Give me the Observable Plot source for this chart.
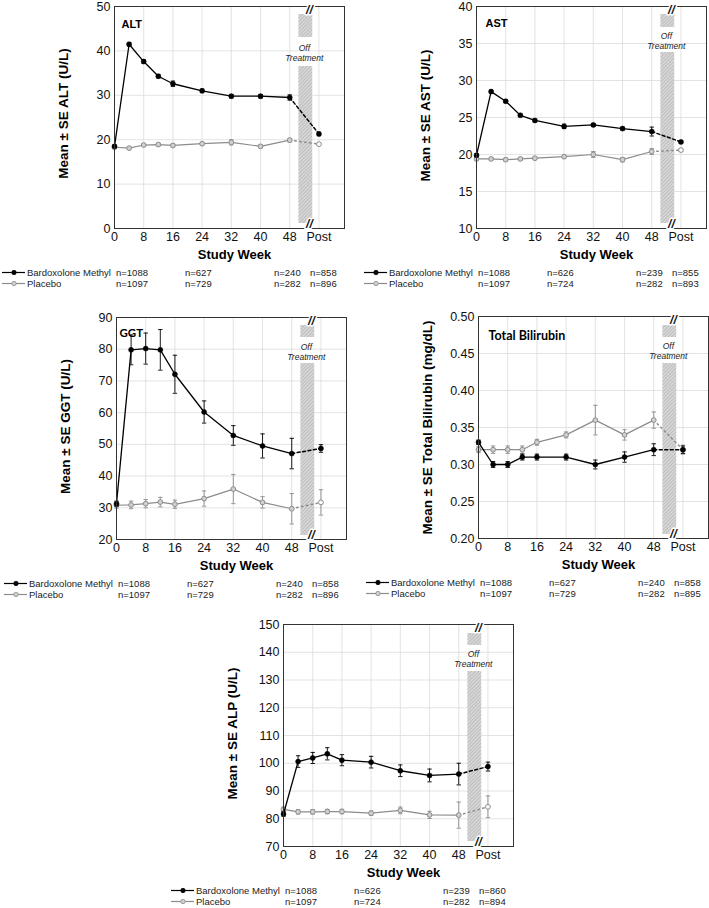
<!DOCTYPE html>
<html><head><meta charset="utf-8">
<script src="https://cdn.jsdelivr.net/npm/d3@7"></script>
<script src="https://cdn.jsdelivr.net/npm/@observablehq/plot@0.6"></script>
<style>
body{margin:0;background:#fff;font-family:"Liberation Sans",Arial,sans-serif;}
#root{position:relative;width:709px;height:908px;overflow:hidden;background:#fff;}
.panel{position:absolute;}
.leg{position:absolute;font-size:9.5px;color:#222;white-space:nowrap;line-height:11px;}
</style></head><body>
<svg width="0" height="0" style="position:absolute"><defs>
<pattern id="hatch" width="2.5" height="2.5" patternUnits="userSpaceOnUse" patternTransform="rotate(45)"><rect width="2.5" height="2.5" fill="#d6d6d6"/><line x1="0" y1="0" x2="0" y2="2.5" stroke="#a9a9a9" stroke-width="1"/></pattern>
</defs></svg>
<div id="root"></div>
<script>
// ---- data ----
const weekLabels = ["0","4","8","12","16","24","32","40","48","Post"];
const xTickLabels = ["0","8","16","24","32","40","48","Post"];
const groups = ["Bardoxolone Methyl","Placebo"];

const altBard   = [18.5,41.5,37.6,34.3,32.6,31.0,29.8,29.8,29.5,21.3];
const altBardSE = [0.3,0.4,0.4,0.4,0.6,0.4,0.4,0.4,0.6,0.4];
const altPlac   = [18.3,18.1,18.8,18.9,18.7,19.1,19.4,18.5,19.9,19.0];
const altPlacSE = [0.3,0.3,0.3,0.3,0.3,0.3,0.6,0.3,0.4,0.3];
const altNBard = [1088,627,240,858], altNPlac = [1097,729,282,896];

const astBard   = [19.9,28.5,27.2,25.3,24.6,23.8,24.0,23.5,23.1,21.7];
const astBardSE = [0.2,0.2,0.2,0.2,0.2,0.3,0.2,0.2,0.6,0.2];
const astPlac   = [19.4,19.4,19.3,19.4,19.5,19.7,20.0,19.3,20.4,20.6];
const astPlacSE = [0.2,0.2,0.2,0.2,0.2,0.2,0.4,0.3,0.4,0.2];
const astNBard = [1088,626,239,855], astNPlac = [1097,724,282,893];

const ggtBard   = [31.3,79.8,80.2,79.8,72.1,60.2,52.8,49.5,47.1,48.7];
const ggtBardSE = [0.8,4.7,4.9,6.4,6.0,3.5,3.1,3.8,4.8,1.2];
const ggtPlac   = [30.8,30.9,31.3,31.8,31.1,32.9,35.9,31.7,29.7,31.7];
const ggtPlacSE = [0.9,1.2,1.3,1.5,1.3,2.4,4.6,1.8,4.8,4.0];
const ggtNBard = [1088,627,240,858], ggtNPlac = [1097,729,282,896];

const tbBard   = [0.33,0.30,0.30,0.31,0.31,0.31,0.30,0.31,0.32,0.32];
const tbBardSE = [0.003,0.004,0.004,0.004,0.004,0.004,0.006,0.007,0.008,0.005];
const tbPlac   = [0.32,0.32,0.32,0.32,0.33,0.34,0.36,0.34,0.36,0.32];
const tbPlacSE = [0.004,0.005,0.005,0.005,0.004,0.004,0.02,0.007,0.011,0.006];
const tbNBard = [1088,627,240,858], tbNPlac = [1097,729,282,895];

const alpBard   = [81.7,100.6,101.9,103.4,101.1,100.4,97.3,95.6,96.1,98.8];
const alpBardSE = [0.8,2.1,2.0,2.2,2.0,2.1,2.1,2.3,3.9,1.6];
const alpPlac   = [83.4,82.5,82.5,82.6,82.6,82.0,83.0,81.4,81.3,84.3];
const alpPlacSE = [0.8,0.8,0.8,0.8,0.8,0.8,1.2,1.3,4.7,3.9];
const alpNBard = [1088,626,239,860], alpNPlac = [1097,724,282,894];

// ---- layout ----
const POST_POS = 56, X_MAX = 63, OFF_X1 = 50.5, OFF_X2 = 54.3, BREAK_X = 53.4;
const xPos = w => w === "Post" ? POST_POS : +w;
const W = 230, H = 222, ML = 80, MR = 1, MT = 10, MB = 40;

const panels = [
  {title:"ALT", ylab:"Mean \u00b1 SE ALT (U/L)", domain:[0,50], step:10, fmt:d3.format("d"),
   bard:altBard,bardSE:altBardSE,plac:altPlac,placSE:altPlacSE,nB:altNBard,nP:altNPlac,
   left:114, top:6, off:{t:[8,31], b:[60,5], txt:[38,48]}, tfont:"Liberation Sans", tsize:11, tdx:7, tdy:14, ldy:-4},
  {title:"AST", ylab:"Mean \u00b1 SE AST (U/L)", domain:[10,40], step:5, fmt:d3.format("d"),
   bard:astBard,bardSE:astBardSE,plac:astPlac,placSE:astPlacSE,nB:astNBard,nP:astNPlac,
   left:476, top:6, off:{t:[8,21], b:[46,5], txt:[26,36]}, tfont:"Liberation Sans", tsize:11, tdx:9, tdy:13, ldy:-2},
  {title:"GGT", ylab:"Mean \u00b1 SE GGT (U/L)", domain:[20,90], step:10, fmt:d3.format("d"),
   bard:ggtBard,bardSE:ggtBardSE,plac:ggtPlac,placSE:ggtPlacSE,nB:ggtNBard,nP:ggtNPlac,
   left:116, top:317, off:{t:[8,20], b:[46,4], txt:[26,36]}, tfont:"Lato", tsize:11.5, tdx:3, tdy:11, ldy:-2},
  {title:"Total Bilirubin", ylab:"Mean \u00b1 SE Total Bilirubin (mg/dL)", domain:[0.20,0.50], step:0.05, fmt:d3.format(".2f"),
   bard:tbBard,bardSE:tbBardSE,plac:tbPlac,placSE:tbPlacSE,nB:tbNBard,nP:tbNPlac,
   left:478, top:316, off:{t:[9,21], b:[47,4], txt:[26,36]}, tfont:"Lato", tsize:12.5, tdx:10, tdy:15, ldy:0},
  {title:"", ylab:"Mean \u00b1 SE ALP (U/L)", domain:[70,150], step:10, fmt:d3.format("d"),
   bard:alpBard,bardSE:alpBardSE,plac:alpPlac,placSE:alpPlacSE,nB:alpNBard,nP:alpNPlac,
   left:283, top:624, off:{t:[9,21], b:[47,5], txt:[26,36]}, tfont:"Liberation Sans", tsize:11, tdx:7, tdy:14, ldy:-2}
];

const BARD = "#000", PLAC = "#8c8c8c";
const root = document.getElementById("root");

function makePanel(p){
  const [y0,y1] = p.domain;
  const toY = off => y1 - off/H*(y1-y0);
  const rows = [];
  weekLabels.forEach((w,i)=>{
    rows.push({g:groups[0], x:xPos(w), v:p.bard[i], se:p.bardSE[i], post:w==="Post", w});
    rows.push({g:groups[1], x:xPos(w), v:p.plac[i], se:p.placSE[i], post:w==="Post", w});
  });
  const on = g => rows.filter(d=>d.g===g && !d.post);
  const offSeg = g => rows.filter(d=>d.g===g && (d.w==="48"||d.post));
  const yTicks = d3.range(0, Math.round((y1-y0)/p.step)+1).map(i=>+(y0+i*p.step).toFixed(4));
  const xTicks = xTickLabels.map(xPos);
  const cap = 0.6;
  const midX = (OFF_X1+OFF_X2)/2 - 0.4;
  const bars = [
    {x1:OFF_X1,x2:OFF_X2,y1:toY(p.off.t[1]),y2:toY(p.off.t[0])},
    {x1:OFF_X1,x2:OFF_X2,y1:toY(H-p.off.b[1]),y2:toY(p.off.b[0])}
  ];
  const errMarks = (g,color) => [
    Plot.ruleX(rows.filter(d=>d.g===g),{x:"x",y1:d=>d.v-d.se,y2:d=>d.v+d.se,stroke:color,strokeWidth:0.9}),
    Plot.link(rows.filter(d=>d.g===g),{x1:d=>d.x-cap,x2:d=>d.x+cap,y1:d=>d.v+d.se,y2:d=>d.v+d.se,stroke:color,strokeWidth:0.9}),
    Plot.link(rows.filter(d=>d.g===g),{x1:d=>d.x-cap,x2:d=>d.x+cap,y1:d=>d.v-d.se,y2:d=>d.v-d.se,stroke:color,strokeWidth:0.9})
  ];
  const chart = Plot.plot({
    width: ML+W+MR, height: MT+H+MB,
    marginLeft: ML, marginRight: MR, marginTop: MT, marginBottom: MB,
    style: {fontFamily:"Liberation Sans, Arial, sans-serif", fontSize:"12.5px", background:"transparent", overflow:"visible"},
    x: {domain:[0,X_MAX]},
    y: {domain:[y0,y1]},
    marks: [
      Plot.ruleX(xTicks,{stroke:"#dcdcdc",strokeWidth:0.8}),
      Plot.ruleY(yTicks,{stroke:"#dcdcdc",strokeWidth:0.8}),
      Plot.rect(bars,{x1:"x1",x2:"x2",y1:"y1",y2:"y2",fill:"url(#hatch)"}),
      Plot.text(["Off"],{x:()=>midX, frameAnchor:"top", dy:p.off.txt[0], text:d=>d, fontStyle:"italic", fontSize:8.5, fill:"#222"}),
      Plot.text(["Treatment"],{x:()=>midX, frameAnchor:"top", dy:p.off.txt[1], text:d=>d, fontStyle:"italic", fontSize:8.5, fill:"#222"}),
      // placebo
      ...errMarks(groups[1],PLAC),
      Plot.line(on(groups[1]),{x:"x",y:"v",stroke:PLAC,strokeWidth:1.2}),
      Plot.line(offSeg(groups[1]),{x:"x",y:"v",stroke:PLAC,strokeWidth:1.5,strokeDasharray:"1.5,3.5",strokeLinecap:"round"}),
      Plot.dot(rows.filter(d=>d.g===groups[1]),{x:"x",y:"v",r:2.4,fill:d=>d.post?"#fff":"#d0d0d0",stroke:PLAC,strokeWidth:1}),
      // bardoxolone
      ...errMarks(groups[0],BARD),
      Plot.line(on(groups[0]),{x:"x",y:"v",stroke:BARD,strokeWidth:1.3}),
      Plot.line(offSeg(groups[0]),{x:"x",y:"v",stroke:BARD,strokeWidth:1.5,strokeDasharray:"3,2.5"}),
      Plot.dot(rows.filter(d=>d.g===groups[0]),{x:"x",y:"v",r:2.5,fill:BARD,stroke:BARD,strokeWidth:0.5}),
      Plot.frame({stroke:"#333",strokeWidth:1}),
      Plot.text(["//"],{x:()=>BREAK_X, frameAnchor:"top", text:d=>d, fontWeight:"bold", fontStyle:"italic", fontSize:12, fill:"#111", stroke:"#fff", strokeWidth:3, paintOrder:"stroke", dy:-1}),
      Plot.text(["//"],{x:()=>BREAK_X, frameAnchor:"bottom", text:d=>d, fontWeight:"bold", fontStyle:"italic", fontSize:12, fill:"#111", stroke:"#fff", strokeWidth:3, paintOrder:"stroke", dy:-1}),
      Plot.text([p.title],{frameAnchor:"top-left", dx:p.tdx, dy:p.tdy, text:d=>d, fontWeight:"bold", fontSize:p.tsize, fontFamily:p.tfont, textAnchor:"start", fill:"#000"}),
      Plot.axisX(xTicks,{tickSize:0, tickPadding:4, fontSize:12.5, tickFormat:d=> d===POST_POS ? "Post" : String(d), label:null, fill:"#111"}),
      Plot.axisY(yTicks,{tickSize:0, tickPadding:4, fontSize:12.5, tickFormat:p.fmt, label:null, fill:"#111"}),
      Plot.text([p.ylab],{frameAnchor:"left", dx:-51, dy:p.ldy, rotate:-90, textAnchor:"middle", text:d=>d, fontWeight:"bold", fontSize:13.5, fill:"#000"}),
      Plot.text(["Study Week"],{frameAnchor:"bottom", dx:5, dy:30, textAnchor:"middle", text:d=>d, fontWeight:"bold", fontSize:13, fill:"#000"})
    ]
  });
  const div = document.createElement("div");
  div.className = "panel";
  div.style.left = (p.left-ML)+"px";
  div.style.top = (p.top-MT)+"px";
  div.appendChild(chart);
  root.appendChild(div);

  // legend
  const nOff = [2,71,160,196];
  const bottom = p.top + H;
  [[groups[0],p.nB,BARD,"#000",44],[groups[1],p.nP,PLAC,"#d0d0d0",55]].forEach(([name,ns,col,fill,dy])=>{
    const icon = document.createElement("div");
    icon.className="leg";
    icon.style.left=(p.left-112)+"px"; icon.style.top=(bottom+dy-5)+"px";
    icon.innerHTML=`<svg width="24" height="11"><line x1="0" y1="5.5" x2="23" y2="5.5" stroke="${col}" stroke-width="1.2"/><circle cx="12" cy="5.5" r="2.2" fill="${fill}" stroke="${col}" stroke-width="0.8"/></svg>`;
    root.appendChild(icon);
    const t = document.createElement("div");
    t.className="leg"; t.textContent=name;
    t.style.left=(p.left-87)+"px"; t.style.top=(bottom+dy-5)+"px";
    root.appendChild(t);
    ns.forEach((n,i)=>{
      const e=document.createElement("div");
      e.className="leg"; e.textContent="n="+n;
      e.style.left=(p.left+nOff[i])+"px"; e.style.top=(bottom+dy-5)+"px";
      root.appendChild(e);
    });
  });
}
panels.forEach(makePanel);
</script>
</body></html>
